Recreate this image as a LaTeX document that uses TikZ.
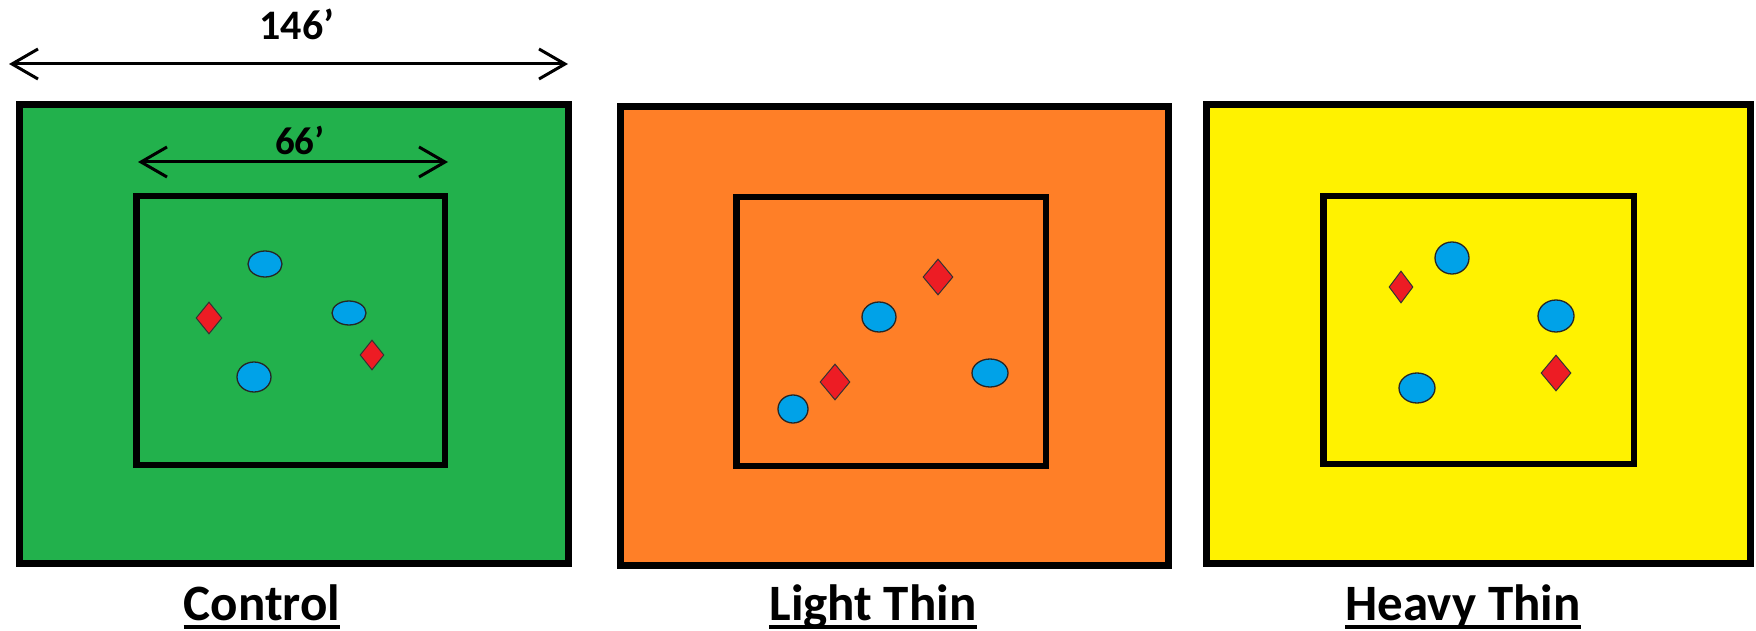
\documentclass[tikz,border=0pt]{standalone}
\usepackage{fontspec}
\setmainfont{Carlito}
\usetikzlibrary{shapes.geometric,arrows.meta}
\definecolor{pgreen}{HTML}{22B14C}
\definecolor{porange}{HTML}{FF7F27}
\definecolor{pyellow}{HTML}{FFF200}
\definecolor{pblue}{HTML}{00A2E8}
\definecolor{pred}{HTML}{ED1C24}
\begin{document}
\begin{tikzpicture}[x=1pt,y=-1pt,
  plotbox/.style={draw=black,line width=7pt,inner sep=0pt,outer sep=0pt},
  corebox/.style={draw=black,line width=6.5pt,inner sep=0pt,outer sep=0pt},
  tree/.style={ellipse,draw=black!85,line width=1.3pt,fill=pblue,inner sep=0pt,minimum width=#1},
  plant/.style={diamond,draw=black!80,line width=1pt,fill=pred,inner sep=0pt},
  dimline/.style={line width=3pt,{Straight Barb[length=26pt,width=30pt]}-{Straight Barb[length=26pt,width=30pt]}},
  dimtext/.style={anchor=base,inner sep=0pt,font=\bfseries\fontsize{#1}{#1}\selectfont},
  label/.style={anchor=base,inner sep=0pt,font=\bfseries\fontsize{51}{60}\selectfont},
  uline/.style={line width=4pt}
]
\useasboundingbox (0,0) rectangle (1756,631);

% outer plots
\node[plotbox,fill=pgreen,minimum width=549pt,minimum height=459pt] (gout) at (294,334) {};
\node[plotbox,fill=porange,minimum width=548pt,minimum height=459pt] (oout) at (894.5,336) {};
\node[plotbox,fill=pyellow,minimum width=544pt,minimum height=459pt] (yout) at (1478.5,334) {};

% inner plots
\node[corebox,minimum width=308.5pt,minimum height=268.5pt] (gin) at (290.5,330.5) {};
\node[corebox,minimum width=309.5pt,minimum height=268.5pt] (oin) at (891,331.5) {};
\node[corebox,minimum width=310.5pt,minimum height=267.5pt] (yin) at (1478.5,330) {};

% control
\node[tree=34pt,minimum height=26pt] (g1) at (265,264) {};
\node[tree=34pt,minimum height=24pt] (g2) at (349,313) {};
\node[tree=34pt,minimum height=30pt] (g3) at (254,377) {};
\node[plant,minimum width=26pt,minimum height=32pt] (gd1) at (209,318) {};
\node[plant,minimum width=24pt,minimum height=30pt] (gd2) at (372,355) {};

% light thin
\node[tree=34pt,minimum height=30pt] (o1) at (879,317) {};
\node[tree=30pt,minimum height=28pt] (o2) at (793,409) {};
\node[tree=36pt,minimum height=28pt] (o3) at (990,373) {};
\node[plant,minimum width=30pt,minimum height=36pt] (od1) at (938,277) {};
\node[plant,minimum width=30pt,minimum height=36pt] (od2) at (835,382) {};

% heavy thin
\node[tree=34pt,minimum height=32pt] (y1) at (1452,258) {};
\node[tree=36pt,minimum height=32pt] (y2) at (1556,316) {};
\node[tree=36pt,minimum height=30pt] (y3) at (1417,388) {};
\node[plant,minimum width=24pt,minimum height=32pt] (yd1) at (1401,287) {};
\node[plant,minimum width=30pt,minimum height=36pt] (yd2) at (1556,373) {};

% dimensions
\coordinate (a1) at (9,64);
\coordinate (a2) at (568,64);
\draw[dimline] (a1) -- (a2);
\node[dimtext=42] (t146) at (297,40) {146’};
\coordinate (b1) at (138,162);
\coordinate (b2) at (448,162);
\draw[dimline] (b1) -- (b2);
\node[dimtext=39] (t66) at (300,155) {66’};

% labels
\node[label] (lc) at (262,620) {Control};
\node[label] (ll) at (873,620) {Light Thin};
\node[label] (lh) at (1463,620) {Heavy Thin};
\draw[uline] ([yshift=-7pt]lc.base west) -- ([yshift=-7pt]lc.base east);
\draw[uline] ([yshift=-7pt]ll.base west) -- ([yshift=-7pt]ll.base east);
\draw[uline] ([yshift=-7pt]lh.base west) -- ([yshift=-7pt]lh.base east);
\end{tikzpicture}
\end{document}
